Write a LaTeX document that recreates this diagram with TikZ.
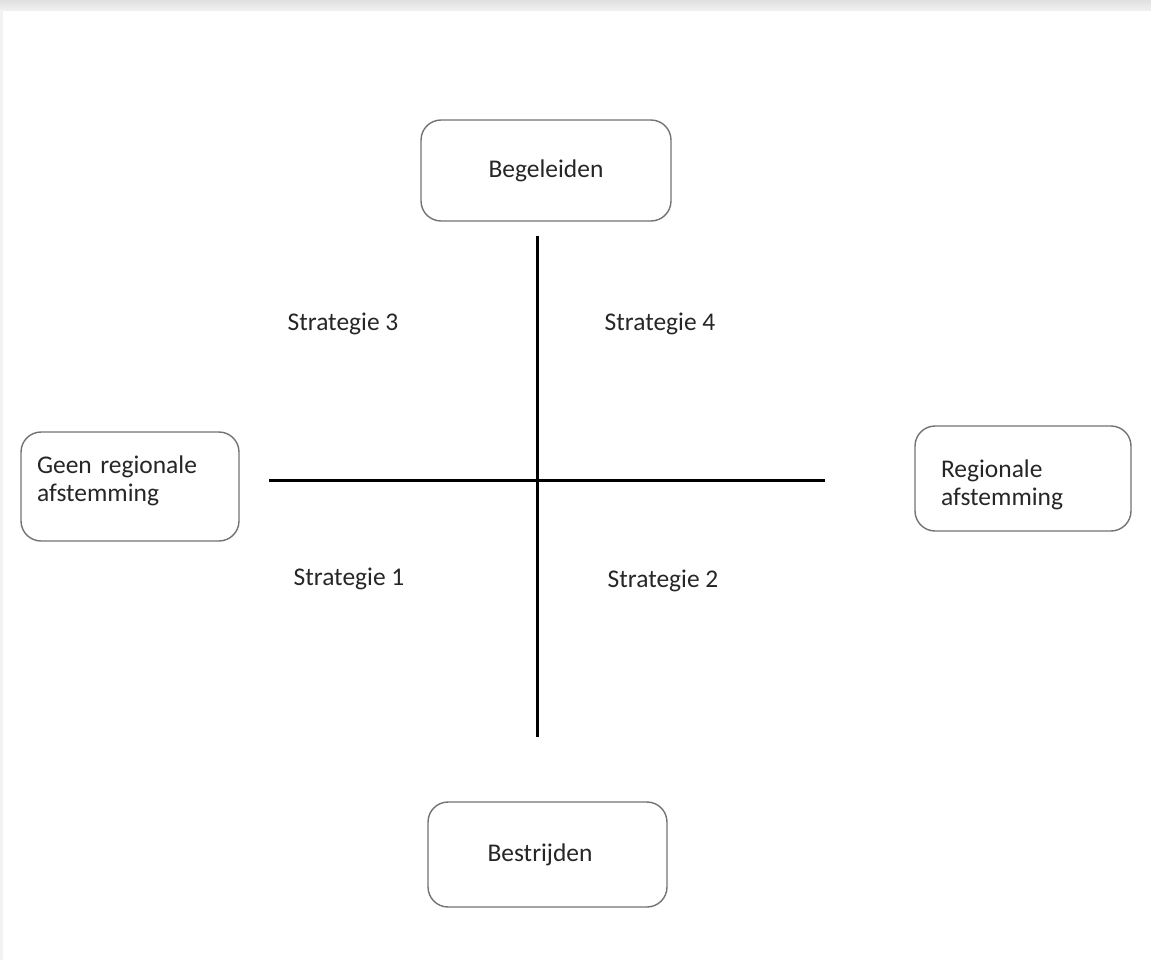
\documentclass[tikz,border=0pt]{standalone}
\usepackage{fontspec}
\setmainfont{Carlito}
\usepackage{tikz}
\tikzstyle{endbox}=[draw=black!55,%
                    line width=0.8pt,%
                    rectangle,%
                    rounded corners=0.4cm,%
                    fill=white,%
                    font=\fontsize{14.5}{16}\selectfont,%
                    text=black!85]
\tikzstyle{strat}=[font=\fontsize{14.5}{16}\selectfont, text=black!85]
\tikzstyle{axis}=[line width=1.7pt, black]
\begin{document}
\begin{tikzpicture}[x=0.02cm,y=-0.02cm]
  \useasboundingbox (0,0) rectangle (1151,960);
  \shade[top color=black!12, bottom color=black!6] (0,0) rectangle (1151,10);
  \fill[black!5] (0,10) rectangle (3,960);
            \node[endbox, minimum width=5cm, minimum height=2.02cm] (top) at (546,170.5) {Begeleiden};
            \node[endbox, minimum width=4.78cm, minimum height=2.1cm] (bottom) at (547.5,854.5) {\hspace*{-0.3cm}Bestrijden};
            \node[endbox, minimum width=4.36cm, minimum height=2.18cm, align=left, text width=3.72cm, inner sep=0.32cm] (left) at (130,486.5) {Geen regionale\\afstemming\rule[-0.3cm]{0pt}{0.1cm}};
            \node[endbox, minimum width=4.32cm, minimum height=2.1cm, align=left, text width=3.72cm, inner sep=0.3cm] (right) at (1023,478.5) {\rule{0pt}{0.6cm}\hspace*{0.22cm}Regionale\\\hspace*{0.22cm}afstemming};
            \coordinate (n) at (537,236);
            \coordinate (s) at (537,737);
            \coordinate (w) at (269,480);
            \coordinate (e) at (825,480);
            \draw [axis] (n) -- (s);
            \draw [axis] (w) -- (e);
            \node[strat] (s3) at (343,324) {Strategie 3};
            \node[strat] (s4) at (660,324) {Strategie 4};
            \node[strat] (s1) at (349,579) {Strategie 1};
            \node[strat] (s2) at (663,581) {Strategie 2};
\end{tikzpicture}
\end{document}
